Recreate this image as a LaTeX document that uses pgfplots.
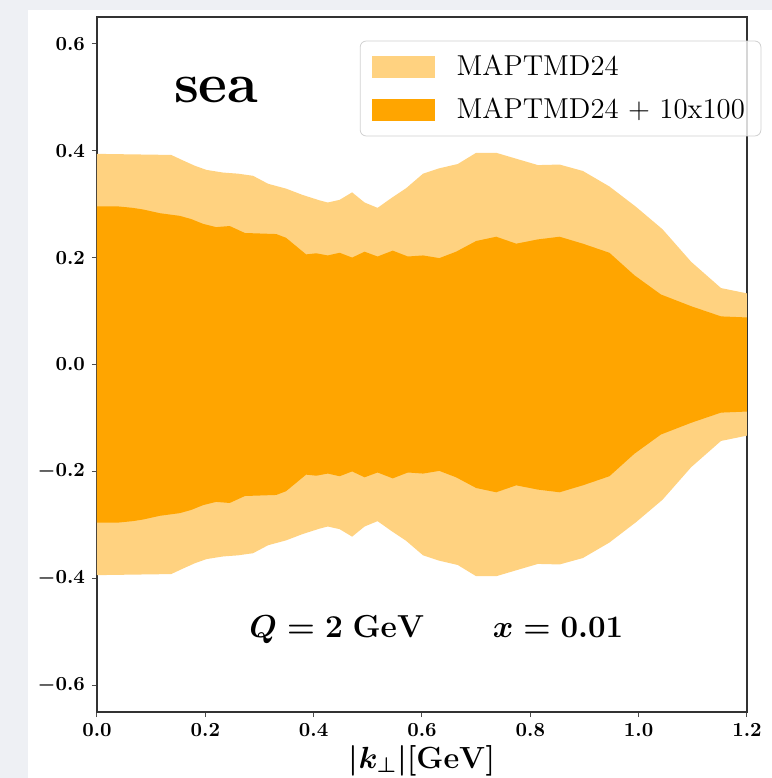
\RequirePackage{fix-cm}
\documentclass[border=0pt]{standalone}
\usepackage{pgfplots}
\pgfplotsset{compat=1.18}
\definecolor{lightor}{RGB}{255,210,128}
\definecolor{darkor}{RGB}{255,165,0}
\definecolor{pagegray}{RGB}{238,240,244}

% outer band (MAPTMD24): upper edge left to right, then lower edge back
\pgfplotstableread{
x     y
0.000 0.394
0.137 0.392
0.156 0.383
0.180 0.372
0.202 0.364
0.233 0.359
0.260 0.357
0.288 0.353
0.316 0.338
0.349 0.329
0.380 0.317
0.411 0.307
0.426 0.303
0.448 0.308
0.471 0.322
0.494 0.303
0.518 0.293
0.543 0.311
0.571 0.330
0.602 0.357
0.632 0.367
0.666 0.375
0.700 0.396
0.737 0.396
0.777 0.384
0.814 0.373
0.854 0.374
0.897 0.362
0.946 0.333
0.995 0.295
1.044 0.253
1.097 0.192
1.152 0.143
1.200 0.133
1.200 -0.133
1.152 -0.143
1.097 -0.192
1.044 -0.253
0.995 -0.295
0.946 -0.333
0.897 -0.362
0.854 -0.374
0.814 -0.373
0.777 -0.384
0.737 -0.396
0.700 -0.396
0.666 -0.375
0.632 -0.367
0.602 -0.357
0.571 -0.330
0.543 -0.311
0.518 -0.293
0.494 -0.303
0.471 -0.322
0.448 -0.308
0.426 -0.303
0.411 -0.307
0.380 -0.317
0.349 -0.329
0.316 -0.338
0.288 -0.353
0.260 -0.357
0.233 -0.359
0.202 -0.364
0.180 -0.372
0.156 -0.383
0.137 -0.392
0.000 -0.394
}\outerband

% inner band (MAPTMD24 + 10x100)
\pgfplotstableread{
x     y
0.000 0.296
0.036 0.296
0.066 0.293
0.085 0.290
0.116 0.283
0.153 0.278
0.174 0.272
0.196 0.263
0.220 0.257
0.245 0.259
0.273 0.246
0.331 0.244
0.349 0.237
0.386 0.206
0.405 0.208
0.426 0.204
0.448 0.209
0.471 0.200
0.494 0.211
0.518 0.202
0.546 0.213
0.574 0.202
0.602 0.204
0.632 0.199
0.663 0.211
0.700 0.231
0.737 0.239
0.774 0.226
0.814 0.234
0.854 0.239
0.897 0.226
0.946 0.209
0.992 0.167
1.041 0.131
1.097 0.109
1.152 0.090
1.200 0.088
1.200 -0.088
1.152 -0.090
1.097 -0.109
1.041 -0.131
0.992 -0.167
0.946 -0.209
0.897 -0.226
0.854 -0.239
0.814 -0.234
0.774 -0.226
0.737 -0.239
0.700 -0.231
0.663 -0.211
0.632 -0.199
0.602 -0.204
0.574 -0.202
0.546 -0.213
0.518 -0.202
0.494 -0.211
0.471 -0.200
0.448 -0.209
0.426 -0.204
0.405 -0.208
0.386 -0.206
0.349 -0.237
0.331 -0.244
0.273 -0.246
0.245 -0.259
0.220 -0.257
0.196 -0.263
0.174 -0.272
0.153 -0.278
0.116 -0.283
0.085 -0.290
0.066 -0.293
0.036 -0.296
0.000 -0.296
}\innerband

\begin{document}
\begin{tikzpicture}
\fill[pagegray] (-48.5pt,-33pt) rectangle (337.5pt,356pt);
\fill[white] (-34.5pt,-33pt) rectangle (337.5pt,351pt);
\begin{axis}[
  at={(0,0)}, anchor=south west, scale only axis,
  width=325pt, height=347.5pt,
  xmin=0, xmax=1.2, ymin=-0.65, ymax=0.65,
  xtick={0,0.2,0.4,0.6,0.8,1.0,1.2},
  ytick={-0.6,-0.4,-0.2,0,0.2,0.4,0.6},
  tick pos=left, tick align=outside,
  major tick length=2.5pt,
  axis line style={black!80, line width=0.6pt},
  tick style={black!70, line width=0.5pt},
  tick label style={font=\boldmath},
  /pgf/number format/.cd, fixed, fixed zerofill, precision=1, /pgfplots/.cd,
  xlabel={$|k_\perp|[\mathrm{GeV}]$},
  xlabel style={font=\fontsize{15.3}{18}\selectfont\boldmath, at={(axis description cs:0.5,0)}, anchor=base, yshift=-28pt},
  legend style={at={(1.022,0.966)}, anchor=north east, draw=black!18, rounded corners=3pt,
    fill=white, fill opacity=0.8, text opacity=1, font=\fontsize{14.4}{17}\selectfont,
    row sep=5.7pt, inner xsep=6pt, inner ysep=5.1pt},
  legend cell align=left,
]
\addplot[fill=lightor, draw=none, forget plot] table[x=x,y=y]{\outerband} -- cycle;
\addplot[fill=darkor, draw=none, forget plot] table[x=x,y=y]{\innerband} -- cycle;

\addlegendimage{legend image code/.code={\fill[lightor, draw=none, sharp corners, fill opacity=1] (0pt,-5.6pt) rectangle (31.5pt,5.6pt); \path (40pt,0pt);}}
\addlegendentry{MAPTMD24}
\addlegendimage{legend image code/.code={\fill[darkor, draw=none, sharp corners, fill opacity=1] (0pt,-5.6pt) rectangle (31.5pt,5.6pt); \path (40pt,0pt);}}
\addlegendentry{MAPTMD24 + 10x100}

\node[anchor=center, font=\fontsize{28}{34}\selectfont\bfseries] at (axis cs:0.220,0.513) {sea};
\node[anchor=base, inner sep=0pt, font=\fontsize{15.9}{19}\selectfont\boldmath] at (axis cs:0.443,-0.510) {$Q = 2~\mathrm{GeV}$};
\node[anchor=base, inner sep=0pt, font=\fontsize{15.6}{19}\selectfont\boldmath] at (axis cs:0.851,-0.510) {$x = 0.01$};
\end{axis}
\pgfresetboundingbox
\path (-48.5pt,-33pt) rectangle (337.5pt,356pt);
\end{tikzpicture}
\end{document}
